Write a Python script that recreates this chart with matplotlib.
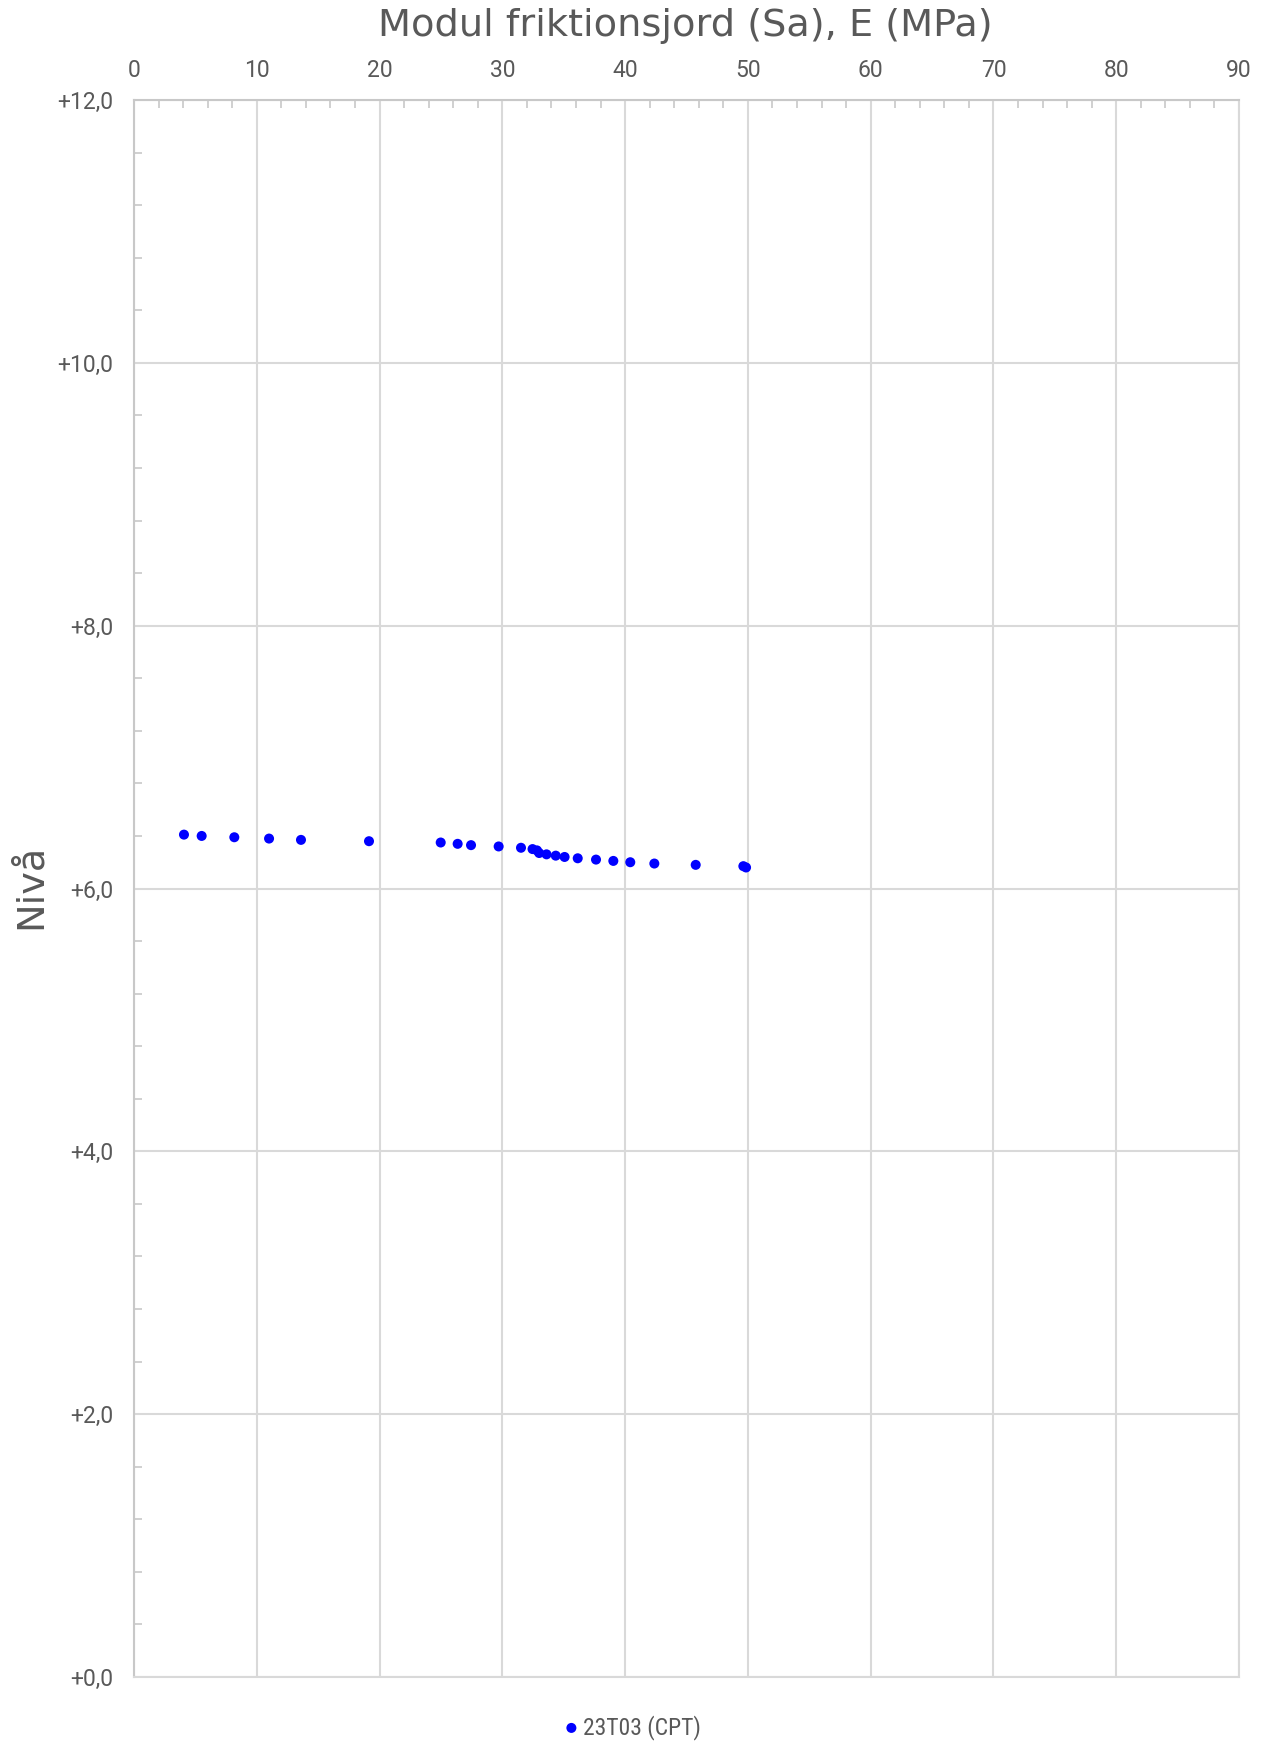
import matplotlib
matplotlib.use("Agg")
import matplotlib.pyplot as plt
from matplotlib.ticker import MultipleLocator, FuncFormatter

# CPT 23T03: friction soil modulus E (MPa) against level (m)
modulus_mpa = [4.07, 5.51, 8.17, 11.0, 13.6, 19.14, 24.98, 26.36, 27.45, 29.70,
               31.52, 32.46, 32.82, 33.0, 33.6, 34.35, 35.07, 36.14, 37.63, 39.04,
               40.42, 42.38, 45.75, 49.63, 49.85]
level_m = [6.41, 6.40, 6.39, 6.38, 6.37, 6.36, 6.35, 6.34, 6.33, 6.32,
           6.31, 6.30, 6.29, 6.27, 6.26, 6.25, 6.24, 6.23, 6.22, 6.21,
           6.20, 6.19, 6.18, 6.17, 6.16]
series_name = "23T03 (CPT)"
x_title = "Modul friktionsjord (Sa), E (MPa)"
y_title = "Nivå"

grid_c = "#d9d9d9"
text_c = "#595959"

fig = plt.figure(figsize=(12.63, 17.42), dpi=100)
ax = fig.add_axes([0.1061, 0.0373, 0.8749, 0.9053])

ax.scatter(modulus_mpa, level_m, s=52, color="#0000ff", edgecolors="none",
           zorder=3, label=series_name)

ax.set_xlim(0, 90)
ax.set_ylim(0, 12)
ax.xaxis.set_major_locator(MultipleLocator(10))
ax.xaxis.set_minor_locator(MultipleLocator(2))
ax.yaxis.set_major_locator(MultipleLocator(2))
ax.yaxis.set_minor_locator(MultipleLocator(0.4))
ax.yaxis.set_major_formatter(FuncFormatter(lambda v, p: ("+%.1f" % v).replace(".", ",")))

ax.xaxis.tick_top()
ax.grid(True, which="major", color=grid_c, linewidth=1.5, zorder=0)
for s in ax.spines.values():
    s.set_color(grid_c)
    s.set_linewidth(1.5)
ax.spines["left"].set_color("#c8c8c8")
ax.spines["top"].set_color("#c8c8c8")

ax.tick_params(axis="both", which="both", direction="in", color="#c8c8c8",
               labelcolor=text_c, labelsize=16.5)
ax.tick_params(axis="x", which="major", length=0, pad=13)
ax.tick_params(axis="y", which="major", length=0, pad=15)
ax.tick_params(axis="both", which="minor", length=6, width=1.2)
for lbl in ax.get_xticklabels() + ax.get_yticklabels():
    lbl.set_fontfamily(["Roboto", "DejaVu Sans"])

fig.text(0.543, 0.9848, x_title, ha="center", va="center",
         fontsize=27.5, color=text_c, family="DejaVu Sans")
fig.text(0.024, 0.491, y_title, ha="center", va="center", rotation=90,
         fontsize=27.5, color=text_c, family="DejaVu Sans")

leg = fig.legend(loc="center", bbox_to_anchor=(0.5, 0.0085), frameon=False,
                 handletextpad=0.1, handlelength=0.8, markerscale=1.0,
                 prop={"family": ["Roboto Condensed", "Roboto", "DejaVu Sans"], "size": 17})
for t in leg.get_texts():
    t.set_color(text_c)

fig.savefig("out.png", dpi=100)
